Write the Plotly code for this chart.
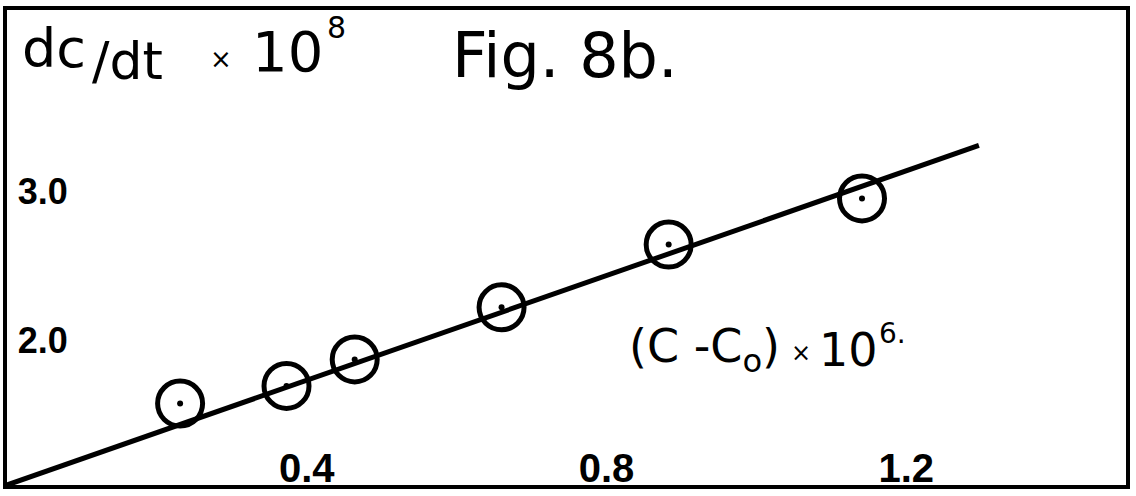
import plotly.graph_objects as go

# (C - C0) x 10^6 against dc/dt x 10^8
conc = [0.231, 0.373, 0.464, 0.660, 0.883, 1.141]
rate = [1.579, 1.697, 1.875, 2.224, 2.645, 2.954]

# fitted straight line, drawn between its two end points
fit_x = [0.0, 1.297]
fit_y = [1.033, 3.309]

x_ticks = [0.4, 0.8, 1.2]
y_ticks = [2.0, 3.0]

W, H = 1136, 496
L, R, T, B = 7, 9, 6, 6
X_RANGE = [0.0, 1.4933]
Y_RANGE = [1.033, 4.217]


def px(x):
    return (x - L) / (W - L - R)


def py(y):
    return (H - B - y) / (H - T - B)


fig = go.Figure()

fig.add_trace(go.Scatter(
    x=fit_x, y=fit_y, mode="lines",
    line=dict(color="black", width=5),
    hoverinfo="skip", showlegend=False,
))

# open rings
fig.add_trace(go.Scatter(
    x=conc, y=rate, mode="markers",
    marker=dict(symbol="circle-open", size=45, color="black",
                line=dict(color="black", width=5)),
    showlegend=False,
))
# centre dots
fig.add_trace(go.Scatter(
    x=conc, y=rate, mode="markers",
    marker=dict(symbol="circle", size=6, color="black"),
    hoverinfo="skip", showlegend=False,
))

hand = "DejaVu Sans"
annos = [
    dict(text="dc", x=px(20), y=py(45), xanchor="left", yanchor="middle",
         font=dict(size=54, family=hand)),
    dict(text="/dt", x=px(90), y=py(58), xanchor="left", yanchor="middle",
         font=dict(size=52, family=hand)),
    dict(text="×", x=px(208), y=py(56), xanchor="left", yanchor="middle",
         font=dict(size=26, family=hand)),
    dict(text="10", x=px(250), y=py(48), xanchor="left", yanchor="middle",
         font=dict(size=56, family=hand)),
    dict(text="8", x=px(325), y=py(24), xanchor="left", yanchor="middle",
         font=dict(size=30, family=hand)),
    dict(text="Fig. 8b.", x=px(450), y=py(52), xanchor="left", yanchor="middle",
         font=dict(size=62, family=hand)),
    dict(text="(C -C<sub>o</sub>)", x=px(628), y=py(352), xanchor="left",
         yanchor="middle", font=dict(size=46, family=hand)),
    dict(text="×", x=px(790), y=py(356), xanchor="left", yanchor="middle",
         font=dict(size=24, family=hand)),
    dict(text="10", x=px(818), y=py(352), xanchor="left", yanchor="middle",
         font=dict(size=46, family=hand)),
    dict(text="6.", x=px(878), y=py(336), xanchor="left", yanchor="middle",
         font=dict(size=28, family=hand)),
]
for a in annos:
    a.update(xref="paper", yref="paper", showarrow=False)
    a["font"]["color"] = "black"

fig.update_layout(
    width=W, height=H,
    margin=dict(l=L, r=R, t=T, b=B),
    paper_bgcolor="white", plot_bgcolor="white",
    annotations=annos,
    xaxis=dict(
        range=X_RANGE, tickvals=x_ticks, tickformat=".1f",
        ticklabelposition="inside", ticks="", showgrid=False, zeroline=False,
        showline=True, linecolor="black", linewidth=4, mirror=True,
        tickfont=dict(family="Liberation Sans", size=40, color="black", weight="bold"),
    ),
    yaxis=dict(
        range=Y_RANGE, tickvals=y_ticks, tickformat=".1f",
        ticklabelposition="inside", ticks="", ticklabelstandoff=15,
        showgrid=False, zeroline=False,
        showline=True, linecolor="black", linewidth=4, mirror=True,
        tickfont=dict(family="Liberation Sans", size=36, color="black", weight="bold"),
    ),
)

fig.write_html("out.html")
